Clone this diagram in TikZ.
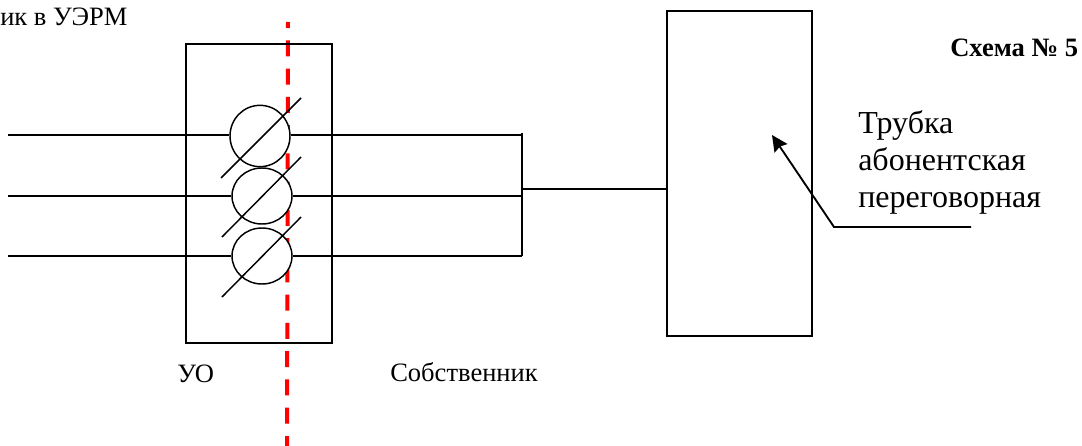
\documentclass[tikz,border=0pt]{standalone}
\usepackage{fontspec}
\setmainfont{Liberation Serif}
\usetikzlibrary{arrows.meta,shapes.geometric}
\tikzset{
  x=0.75pt,y=-0.75pt,
  wire/.style={draw=black,line width=1.4pt},
  thin wire/.style={draw=black,line width=1.1pt},
  box/.style={draw=black,line width=1.4pt},
  meter/.style={ellipse,draw=black,line width=1.1pt,inner sep=0pt,fill=white},
  redline/.style={draw=red,line width=3pt,dash pattern=on 12pt off 9.2pt,dash phase=7.5pt},
  lab/.style={inner sep=0pt,anchor=base west,font=\fontsize{19.9pt}{23pt}\selectfont},
  biglab/.style={inner sep=0pt,anchor=base west,font=\fontsize{24pt}{28pt}\selectfont},
}
\begin{document}
\begin{tikzpicture}
\useasboundingbox (0,0) rectangle (1082,446);
% red boundary line, under the rest
\coordinate (rt) at (288,22);
\coordinate (rb) at (287,446);
\draw[redline] (rt) -- (rb);
% boxes
\node[box,minimum width=109pt,minimum height=224.5pt,inner sep=0pt,anchor=north west] (uo) at (185.4,42.7) {};
\node[box,minimum width=108.75pt,minimum height=243.75pt,inner sep=0pt,anchor=north west] (tube) at (665.7,9.7) {};
% meters
\node[meter,minimum width=45pt,minimum height=46pt] (m1) at (260,136) {};
\node[meter,minimum width=45pt,minimum height=42pt] (m2) at (262,196) {};
\node[meter,minimum width=45pt,minimum height=42pt] (m3) at (262,256) {};
% strokes over meters
\coordinate (s1a) at (221,178); \coordinate (s1b) at (301,98);
\coordinate (s2a) at (222,237); \coordinate (s2b) at (301,157);
\coordinate (s3a) at (222,297); \coordinate (s3b) at (301,217);
\draw[thin wire] (s1a) -- (s1b);
\draw[thin wire] (s2a) -- (s2b);
\draw[thin wire] (s3a) -- (s3b);
% wires
\coordinate (w1) at (8,135); \coordinate (w2) at (8,196); \coordinate (w3) at (8,256);
\coordinate (b1) at (522,135); \coordinate (b2) at (522,196); \coordinate (b3) at (522,256);
\coordinate (bm) at (522,189); \coordinate (tm) at (666,189);
\coordinate (bt) at (522,133); \coordinate (bk) at (522,237);
\draw[wire] (w1) -- (w1 -| m1.west);
\draw[wire] (w2) -- (m2.west);
\draw[wire] (w3) -- (m3.west);
\draw[wire] (b1 -| m1.east) -- (b1);
\draw[wire] (m2.east) -- (b2);
\draw[wire] (m3.east) -- (b3);
\draw[draw=black,line width=2pt] (bt) -- (bk);
\draw[wire] (bk) -- (b3);
\draw[wire] (bm) -- (tm);
% leader
\coordinate (l1) at (971,227); \coordinate (l2) at (834,227); \coordinate (l3) at (772,135);
\draw[wire,-{Stealth[length=12pt,width=11.5pt,inset=1.5pt]}] (l1) -- (l2) -- (l3);
% labels
\node[lab] (t0) at (0,26) {ик в УЭРМ};
\node[lab,font=\fontsize{19.9pt}{23pt}\selectfont\bfseries] (t1) at (950,56) {Схема № 5};
\node[biglab] (t2) at (858,133) {Трубка};
\node[biglab] (t3) at (858,170) {абонентская};
\node[biglab] (t4) at (858,207) {переговорная};
\node[lab] (t5) at (177,382) {УО};
\node[lab] (t6) at (390,381) {Собственник};
\end{tikzpicture}
\end{document}
